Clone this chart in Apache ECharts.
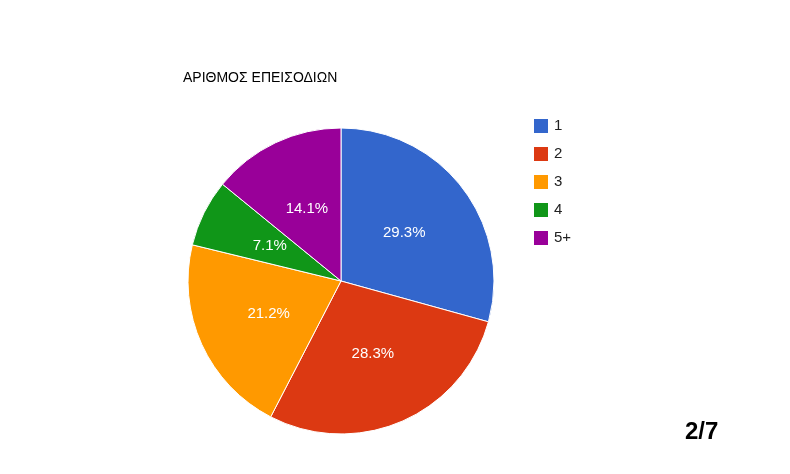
<!DOCTYPE html>
<html><head><meta charset="utf-8">
<script src="https://cdn.jsdelivr.net/npm/echarts@6/dist/echarts.min.js"></script>
<style>html,body{margin:0;padding:0;background:#fff}#c{width:790px;height:474px}</style>
</head><body><div id="c"></div>
<script>
const categories = ['1','2','3','4','5+'];
const values = [29.3, 28.3, 21.2, 7.1, 14.1];
const colors = ['#3366cc','#dc3912','#ff9900','#109618','#990099'];
const chart = echarts.init(document.getElementById('c'));
chart.setOption({
  animation:false,
  color: colors,
  title:[{text:'ΑΡΙΘΜΟΣ ΕΠΕΙΣΟΔΙΩΝ',left:178,top:66,textStyle:{fontFamily:'Arial, Liberation Sans',fontSize:14,fontWeight:'normal',color:'#000'}},
         {text:'2/7',left:680,top:415,textStyle:{fontFamily:'Arial, Liberation Sans',fontSize:24,fontWeight:'bold',color:'#000'}}],
  legend:{orient:'vertical',left:527,top:112,itemWidth:16,itemHeight:16,itemGap:10,icon:'rect',
    textStyle:{fontFamily:'Arial, Liberation Sans',fontSize:15,color:'#222'},data:categories},
  series:[{type:'pie',center:[341,281],radius:[0,153],startAngle:90,clockwise:true,
    itemStyle:{borderColor:'#fff',borderWidth:1},
    label:{position:'inside',color:'#fff',fontFamily:'Arial, Liberation Sans',fontSize:15,formatter:p=>p.value.toFixed(1)+'%'},
    labelLine:{show:false},
    data:categories.map((c,i)=>({name:c,value:values[i]}))}]
});
</script></body></html>
